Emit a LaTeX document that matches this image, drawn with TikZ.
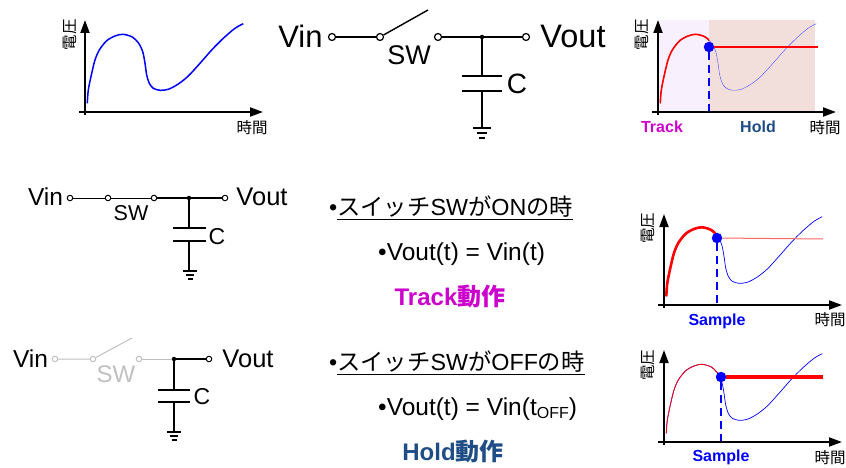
\documentclass[tikz,border=0pt]{standalone}
\usepackage{fontspec}
\setmainfont{Liberation Sans}
\newfontfamily\jpfont{Noto Sans CJK JP}
\usetikzlibrary{arrows.meta}

\definecolor{trackcol}{HTML}{CC00CC}
\definecolor{holdcol}{HTML}{1F4E86}
\definecolor{offcol}{HTML}{C0C0C0}
\definecolor{trackbg}{HTML}{F8F0FC}
\definecolor{holdbg}{HTML}{F2DFDC}

% the input voltage, relative to the origin of a graph
\newcommand{\vincurve}{plot[smooth, tension=0.5] coordinates {(2.3,-8.7) (3.3,-22) (6.7,-38.7) (10,-52) (14.3,-62) (21.7,-71.3) (30,-76) (37.7,-77.7) (46.7,-75.3) (53.3,-69.3) (57.7,-60.3) (60,-48.7) (61.7,-37) (64.3,-28.7) (68.3,-23.7) (75,-21.7) (83.3,-22.7) (93.3,-28) (103.3,-36) (115,-48.7) (126.7,-62) (138.3,-73.7) (150,-83.7) (158.3,-88.3)}}

\tikzset{
    term/.style={circle, draw, fill=white, inner sep=0pt, minimum size=5.5pt, line width=1pt},
    termbig/.style={term, minimum size=7pt, line width=1.2pt},
    termoff/.style={term, draw=offcol},
    junct/.style={circle, fill=black, inner sep=0pt, minimum size=4.5pt},
    biglabel/.style={inner sep=0pt, font=\fontsize{31}{31}\selectfont},
    midlabel/.style={inner sep=0pt, font=\fontsize{24.5}{25}\selectfont},
    swlabel/.style={inner sep=0pt, font=\fontsize{21.5}{22}\selectfont},
    bodytext/.style={inner sep=0pt, anchor=west, font=\fontsize{23.3}{24}\selectfont},
    eqntext/.style={inner sep=0pt, anchor=west, font=\fontsize{24.5}{25}\selectfont},
    modetext/.style={inner sep=0pt, font=\fontsize{24}{25}\selectfont\bfseries},
    axislabel/.style={inner sep=0pt, font=\fontsize{15.5}{16}\selectfont\jpfont},
    graphlabel/.style={inner sep=0pt, font=\fontsize{16}{17}\selectfont\bfseries},
    axis/.style={line width=1.9pt, -{Triangle[length=13pt, width=9pt]}},
    samplemark/.style={blue, line width=2.5pt, dash pattern=on 8pt off 5pt},
    sampledot/.style={circle, fill=blue, inner sep=0pt, minimum size=10.5pt}
}

\begin{document}
\begin{tikzpicture}[x=1pt, y=-1pt]
    \useasboundingbox (0,0) rectangle (846,468);

    % Top left graph
    \begin{scope}[shift={(85,112)}]
        \coordinate (xA) at (-6,0);
        \coordinate (xAend) at (178,0);
        \coordinate (yA) at (0,3);
        \coordinate (yAend) at (0,-92);
        \draw[blue, line width=1.5pt] \vincurve;
        \draw[axis] (xA) -- (xAend);
        \draw[axis] (yA) -- (yAend);
        \node[axislabel] (tA) at (167,16) {時間};
        \node[axislabel, rotate=90] (vA) at (-15,-77) {電圧};
    \end{scope}

    % Top circuit
    \node[termbig] (inA) at (332,37) {};
    \node[termbig] (swlA) at (380,37) {};
    \node[termbig] (swrA) at (438,37) {};
    \node[junct] (jA) at (482,37) {};
    \node[termbig] (outA) at (526,37) {};
    \coordinate (bladeA) at (428,10);
    \coordinate (capA) at (482,76);
    \coordinate (capAb) at (482,91);
    \coordinate (gndA) at (482,128);
    \draw[line width=2pt] (inA) -- (swlA);
    \draw[line width=1.4pt] (swlA) -- (bladeA);
    \draw[line width=2pt] (swrA) -- (jA) -- (outA);
    \draw[line width=1.4pt] (jA) -- (capA);
    \draw[line width=1.4pt] (capAb) -- (gndA);
    \draw[line width=1.7pt] (462,76) -- (502,76);
    \draw[line width=1.7pt] (462,91) -- (502,91);
    \draw[line width=1.4pt] (473,128) -- (491,128);
    \draw[line width=1.4pt] (477,133) -- (487,133);
    \draw[line width=1.4pt] (479,138) -- (485,138);
    \node[biglabel] (vinA) at (300.5,36) {Vin};
    \node[biglabel, font=\fontsize{32.5}{33}\selectfont] (voutA) at (573,36) {Vout};
    \node[biglabel, font=\fontsize{27}{27}\selectfont] (swA) at (409,55) {SW};
    \node[biglabel, font=\fontsize{28}{28}\selectfont] (cA) at (517,84) {C};

    % Top right graph with the two phases
    \begin{scope}[shift={(658,112)}]
        \fill[trackbg] (0,-92) rectangle (51,1);
        \fill[holdbg] (51,-92) rectangle (157,1);
        \draw[blue!70, line width=0.4pt] \vincurve;
        \begin{scope}
            \clip (0,-100) rectangle (51,5);
            \draw[red, line width=1.6pt] \vincurve;
        \end{scope}
        \node[sampledot] (sB) at (51,-65) {};
        \coordinate (holdB) at (160,-65);
        \coordinate (baseB) at (51,0);
        \draw[samplemark] (sB) -- (baseB);
        \draw[red, line width=1.6pt] (sB) -- (holdB);
        \coordinate (xB) at (-6,0);
        \coordinate (xBend) at (178,0);
        \coordinate (yB) at (0,3);
        \coordinate (yBend) at (0,-92);
        \draw[axis] (xB) -- (xBend);
        \draw[axis] (yB) -- (yBend);
        \node[axislabel] (tB) at (167,16) {時間};
        \node[axislabel, rotate=90] (vB) at (-16,-77) {電圧};
        \node[graphlabel, trackcol] (trackB) at (4,15) {Track};
        \node[graphlabel, holdcol] (holdlB) at (100,15) {Hold};
    \end{scope}

    % Closed switch
    \node[term] (inC) at (70,198) {};
    \node[term] (swlC) at (108,198) {};
    \node[term] (swrC) at (154,198) {};
    \node[junct] (jC) at (189,198) {};
    \node[term] (outC) at (225,198) {};
    \coordinate (capC) at (189,228);
    \coordinate (capCb) at (189,241);
    \coordinate (gndC) at (189,271);
    \draw[line width=1pt] (inC) -- (swlC) -- (swrC);
    \draw[line width=1.5pt] (swrC) -- (jC) -- (outC);
    \draw[line width=1.1pt] (jC) -- (capC);
    \draw[line width=1.1pt] (capCb) -- (gndC);
    \draw[line width=1.3pt] (173,228) -- (206,228);
    \draw[line width=1.3pt] (173,241) -- (206,241);
    \draw[line width=1.1pt] (183,271) -- (197,271);
    \draw[line width=1.1pt] (186,275) -- (194,275);
    \draw[line width=1.1pt] (187.5,279) -- (192.5,279);
    \node[midlabel] (vinC) at (45.5,197) {Vin};
    \node[midlabel, font=\fontsize{25.5}{26}\selectfont] (voutC) at (262,197) {Vout};
    \node[swlabel] (swC) at (131,213) {SW};
    \node[swlabel, font=\fontsize{23}{23}\selectfont] (cC) at (217,237) {C};

    % Track text
    \node[bodytext] (onA) at (329,208) {•\underline{{\jpfont スイッチ}SW{\jpfont が}ON{\jpfont の時}}};
    \node[eqntext] (onB) at (378,254) {•Vout(t) = Vin(t)};
    \node[modetext, trackcol] (onC) at (450,297) {Track{\jpfont 動作}};

    % Track graph
    \begin{scope}[shift={(664,305)}]
        \draw[blue, line width=0.7pt] \vincurve;
        \begin{scope}
            \clip (0,-100) rectangle (53,5);
            \draw[red, line width=2.6pt] \vincurve;
        \end{scope}
        \node[sampledot] (sD) at (53,-67) {};
        \coordinate (holdD) at (159,-66);
        \coordinate (baseD) at (53,0);
        \draw[samplemark] (sD) -- (baseD);
        \draw[red!60, line width=1pt] (sD) -- (holdD);
        \coordinate (xD) at (-6,0);
        \coordinate (xDend) at (178,0);
        \coordinate (yD) at (0,3);
        \coordinate (yDend) at (0,-91);
        \draw[axis] (xD) -- (xDend);
        \draw[axis] (yD) -- (yDend);
        \node[axislabel] (tD) at (166,15) {時間};
        \node[axislabel, rotate=90] (vD) at (-16,-77) {電圧};
        \node[graphlabel, blue] (sampleD) at (53,16) {Sample};
    \end{scope}

    % Open switch
    \node[termoff] (inE) at (55,359) {};
    \node[termoff] (swlE) at (93,359) {};
    \node[termoff] (swrE) at (139,359) {};
    \node[junct] (jE) at (174,359) {};
    \node[term] (outE) at (209,359) {};
    \coordinate (bladeE) at (132,338);
    \coordinate (capE) at (174,390);
    \coordinate (capEb) at (174,402);
    \coordinate (gndE) at (174,432);
    \draw[offcol, line width=1pt] (inE) -- (swlE) -- (bladeE);
    \draw[offcol, line width=1pt] (swrE) -- (jE);
    \draw[line width=1.5pt] (jE) -- (outE);
    \draw[line width=1.1pt] (jE) -- (capE);
    \draw[line width=1.1pt] (capEb) -- (gndE);
    \draw[line width=1.3pt] (158,390) -- (190,390);
    \draw[line width=1.3pt] (158,402) -- (190,402);
    \draw[line width=1.1pt] (167,432) -- (181,432);
    \draw[line width=1.1pt] (170,436) -- (178,436);
    \draw[line width=1.1pt] (171.5,440) -- (176.5,440);
    \node[midlabel] (vinE) at (30.5,359) {Vin};
    \node[midlabel, font=\fontsize{25.5}{26}\selectfont] (voutE) at (248,359) {Vout};
    \node[swlabel, offcol, font=\fontsize{24}{24}\selectfont] (swE) at (116,374) {SW};
    \node[swlabel, font=\fontsize{23}{23}\selectfont] (cE) at (202,397) {C};

    % Hold text
    \node[bodytext] (offA) at (329,363) {•\underline{{\jpfont スイッチ}SW{\jpfont が}OFF{\jpfont の時}}};
    \node[eqntext] (offB) at (378,409) {•Vout(t) = Vin(t\raisebox{-3.5pt}{\fontsize{16}{16}\selectfont OFF})};
    \node[modetext, holdcol] (offC) at (453,452) {Hold{\jpfont 動作}};

    % Hold graph
    \begin{scope}[shift={(664,442)}]
        \draw[blue, line width=0.7pt] \vincurve;
        \begin{scope}
            \clip (0,-100) rectangle (57,5);
            \draw[red, line width=0.8pt] \vincurve;
        \end{scope}
        \node[sampledot] (sF) at (57,-65) {};
        \coordinate (holdF) at (159,-65);
        \coordinate (baseF) at (57,0);
        \draw[samplemark] (sF) -- (baseF);
        \draw[red, line width=3.5pt] (sF) -- (holdF);
        \coordinate (xF) at (-6,0);
        \coordinate (xFend) at (178,0);
        \coordinate (yF) at (0,3);
        \coordinate (yFend) at (0,-92);
        \draw[axis] (xF) -- (xFend);
        \draw[axis] (yF) -- (yFend);
        \node[axislabel] (tF) at (166,16) {時間};
        \node[axislabel, rotate=90] (vF) at (-16,-77) {電圧};
        \node[graphlabel, blue] (sampleF) at (57,15) {Sample};
    \end{scope}
\end{tikzpicture}
\end{document}
